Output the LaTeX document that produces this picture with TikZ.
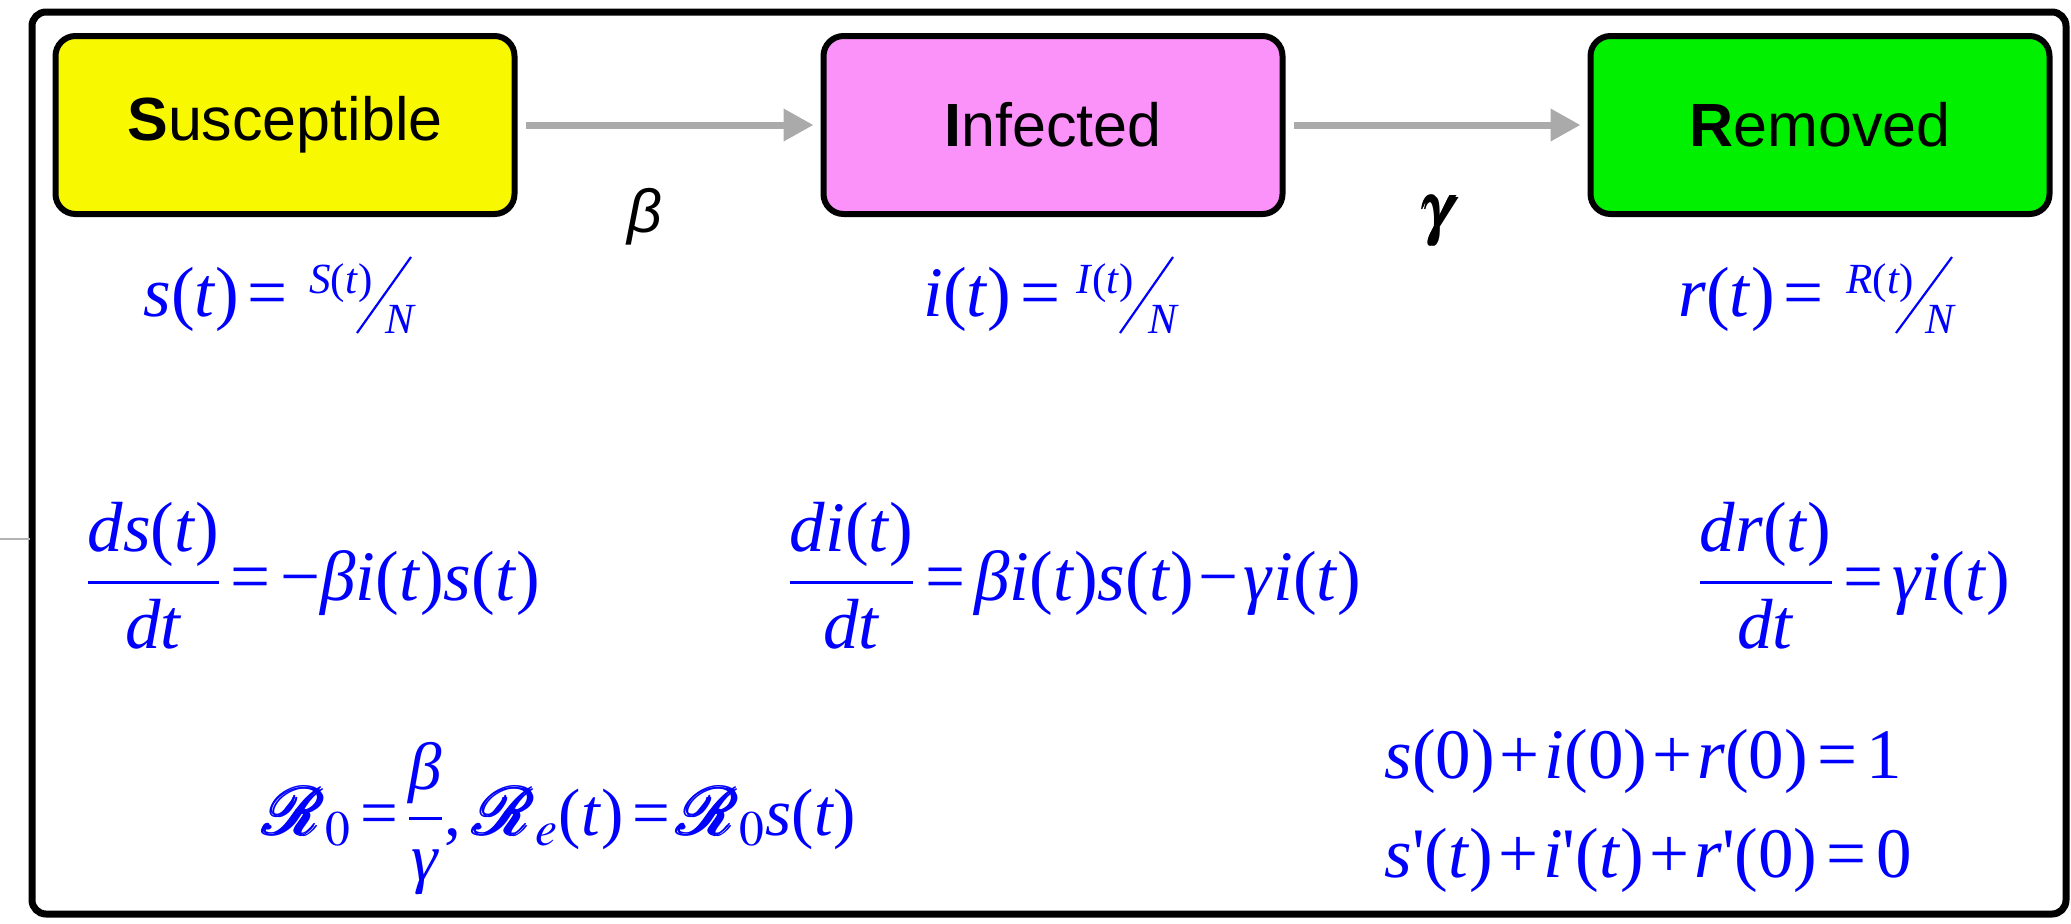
\documentclass[tikz,border=0pt]{standalone}
\usepackage{amsmath}
\usepackage{mathptmx}
\usepackage[no-math]{fontspec}
\newfontfamily\helv{Liberation Sans}
\newfontfamily\lser{Liberation Serif}
\newfontfamily\apos[Ligatures=TeXOff]{Liberation Serif}
\usetikzlibrary{arrows.meta}
\definecolor{syel}{RGB}{248,248,0}
\definecolor{ipink}{RGB}{250,146,250}
\definecolor{rgreen}{RGB}{0,240,0}
\definecolor{agray}{RGB}{170,170,170}
\definecolor{fblue}{RGB}{0,0,255}
\newcommand{\ap}{{\apos\symbol{39}}}
\newcommand{\CR}{\pmb{\mathcal{R}}}
\newcommand{\I}[1]{\textit{#1}}
\newcommand{\Eq}{\hspace{0.13em}=\hspace{0.13em}}
\newcommand{\Pl}{\hspace{0.07em}+\hspace{0.07em}}
\newcommand{\Mn}{\hspace{0.07em}−\hspace{0.07em}}
\newcommand{\Fr}[2]{$\genfrac{}{}{1.4pt}{0}{\mbox{#1}}{\mbox{#2}}$}
\tikzset{
  compart/.style={draw=black, line width=3pt, rounded corners=10pt,
    minimum width=229.5pt, minimum height=89pt, inner sep=0pt,
    font=\helv\fontsize{30.5}{36}\selectfont},
  flow/.style={draw=agray, line width=3.5pt,
    -{Triangle[length=15pt,width=15.5pt]}, shorten <=4pt, shorten >=3.5pt},
  fm/.style={anchor=base west, inner sep=0pt, text=fblue,
    font=\lser\fontsize{35.5}{40}\selectfont},
  fmr/.style={fm, font=\lser\fontsize{33.5}{40}\selectfont},
  fs/.style={anchor=base west, inner sep=0pt, text=fblue,
    font=\lser\fontsize{21.5}{24}\selectfont},
  slash/.style={draw=fblue, line width=1.1pt},
  frame/.style={draw=black, line width=3.5pt, rounded corners=7pt}
}
\begin{document}
\begin{tikzpicture}[x=0.5pt, y=-0.5pt]
\useasboundingbox (0,0) rectangle (2071,923);
% outer frame
\draw[frame] (32,12) rectangle (2066,914);
\draw[gray!60, line width=0.6pt] (0,539) -- (30,539);
% compartments
\node[compart, fill=syel] (S) at (285,125) {\textbf{S}usceptible};
\node[compart, fill=ipink] (I) at (1053,125) {\textbf{I}nfected};
\node[compart, fill=rgreen] (R) at (1820,125) {\textbf{R}emoved};
\draw[flow] (S.east) -- (I.west);
\draw[flow] (I.east) -- (R.west);
\node[font=\helv\itshape\fontsize{30.5}{36}\selectfont] (beta) at (645,217) {β};
\node[font=\fontsize{34}{40}\selectfont] (gamma) at (1437,221) {$\pmb{\gamma}$};
% fractions of population
\node[fm] (s1) at (143,316) {\I{s}(\I{t})\hspace{0.12em}=};
\node[fs] (s1n) at (309,293) {\I{S}(\I{t})};
\node[fs] (s1d) at (385,333) {\I{N}};
\draw[slash] (357,333) -- (411,257);
\node[fm] (i1) at (923,316) {\I{i}(\I{t})\hspace{0.12em}=};
\node[fs] (i1n) at (1076,293) {\I{I}(\I{t})};
\node[fs] (i1d) at (1148,333) {\I{N}};
\draw[slash] (1120,333) -- (1173,257);
\node[fm] (r1) at (1678,316) {\I{r}(\I{t})\hspace{0.12em}=};
\node[fs] (r1n) at (1846,293) {\I{R}(\I{t})};
\node[fs] (r1d) at (1925,333) {\I{N}};
\draw[slash] (1896,333) -- (1952,257);
% ODEs
\node[fm] (ode1) at (85,600) {\Fr{\I{ds}(\I{t})}{\I{dt}}\Eq−\I{β}\I{i}(\I{t})\I{s}(\I{t})};
\node[fm] (ode2) at (787,600) {\Fr{\I{di}(\I{t})}{\I{dt}}\Eq\I{β}\I{i}(\I{t})\I{s}(\I{t})\Mn\I{γ}\I{i}(\I{t})};
\node[fm] (ode3) at (1697,600) {\Fr{\I{dr}(\I{t})}{\I{dt}}\Eq\I{γ}\I{i}(\I{t})};
% reproduction numbers
\node[fmr] (rnum) at (264,835) {$\CR_{0}$\Eq\Fr{\I{β}}{\I{γ}},\hspace{0.2em}$\CR_{e}$(\I{t})\Eq$\CR_{0}$\I{s}(\I{t})};
% conservation
\node[fm] (c1) at (1384,778) {\I{s}(0)\Pl\I{i}(0)\Pl\I{r}(0)\Eq1};
\node[fm] (c2) at (1384,877) {\I{s}\ap(\I{t})\Pl\I{i}\ap(\I{t})\Pl\I{r}\ap(0)\Eq0};
\end{tikzpicture}
\end{document}
